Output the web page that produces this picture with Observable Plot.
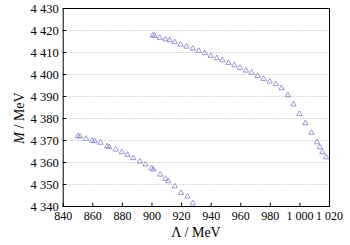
<!DOCTYPE html>
<html>
<head>
<meta charset="utf-8">
<script src="https://cdn.jsdelivr.net/npm/d3@7"></script>
<script src="https://cdn.jsdelivr.net/npm/@observablehq/plot@0.6"></script>
<style>
  html, body { margin: 0; padding: 0; background: #fff; }
  #chart { width: 350px; height: 245px; }
</style>
</head>
<body>
<div id="chart"></div>
<script>
// Upper branch
const upperLambda = [900.5, 901.7, 905.3, 909.1, 912.0, 915.4, 919.3, 923.3, 927.6, 931.6, 935.7, 939.7, 943.8, 947.6, 951.7, 955.7, 959.5, 963.6, 967.4, 971.5, 975.5, 979.6, 983.7, 987.5, 991.8, 995.6, 999.7, 1003.7, 1007.8, 1011.6, 1013.5, 1015.2, 1017.7];
const upperM = [4417.7, 4417.6, 4416.7, 4416.0, 4415.6, 4414.7, 4413.6, 4412.7, 4411.8, 4410.8, 4409.7, 4408.5, 4407.4, 4406.5, 4405.3, 4404.2, 4403.0, 4401.8, 4400.8, 4399.4, 4398.0, 4396.8, 4395.6, 4393.8, 4390.6, 4386.4, 4382.1, 4377.9, 4373.5, 4369.2, 4367.0, 4364.7, 4362.4];
// Lower branch
const lowerLambda = [850.0, 851.4, 855.5, 859.6, 861.2, 865.2, 869.7, 871.1, 875.5, 879.6, 883.4, 887.3, 891.8, 895.6, 899.7, 901.0, 905.5, 909.1, 911.0, 915.4, 919.7, 924.0, 927.6];
const lowerM = [4372.0, 4371.8, 4370.8, 4369.9, 4369.7, 4369.0, 4367.4, 4367.0, 4365.9, 4364.7, 4363.5, 4362.0, 4360.5, 4359.1, 4357.4, 4356.8, 4354.5, 4352.6, 4351.5, 4349.2, 4346.2, 4344.5, 4341.4];

const xTicks = [840, 860, 880, 900, 920, 940, 960, 980, 1000, 1020];
const yTicks = [4340, 4350, 4360, 4370, 4380, 4390, 4400, 4410, 4420, 4430];
const gridTicks = [4350, 4360, 4370, 4380, 4390, 4400, 4410, 4420];

const pts = [
  ...upperLambda.map((x, i) => ({x, y: upperM[i]})),
  ...lowerLambda.map((x, i) => ({x, y: lowerM[i]}))
];

const fmt = d3.formatLocale({decimal: ".", thousands: " ", grouping: [3], currency: ["", ""]}).format(",");
const font = "'Liberation Serif', 'DejaVu Serif', serif";

const plot = Plot.plot({
  width: 350,
  height: 245,
  marginLeft: 62.7,
  marginRight: 21,
  marginTop: 8,
  marginBottom: 39,
  style: {fontSize: "13px", background: "white", color: "black"},
  x: {domain: [840, 1020], label: null},
  y: {domain: [4340, 4430], label: null},
  marks: [
    Plot.gridY(gridTicks, {stroke: "#9a9a9a", strokeOpacity: 1, strokeDasharray: "1,2", strokeWidth: 0.8}),
    Plot.ruleX(xTicks, {y1: 4340, y2: 4341.5, stroke: "black", strokeWidth: 1}),
    Plot.ruleY(yTicks, {x1: 840, x2: 842.5, stroke: "black", strokeWidth: 1}),
    Plot.axisX(xTicks, {tickSize: 0, tickPadding: 5, tickFormat: fmt, fontSize: 12, label: null}),
    Plot.axisY(yTicks, {tickSize: 0, tickPadding: 4.5, tickFormat: fmt, fontSize: 12.5, label: null}),
    Plot.dot(pts, {x: "x", y: "y", symbol: "triangle", r: 2.0, fill: "none", stroke: "#8080c0", strokeWidth: 0.8}),
    Plot.frame({stroke: "black", strokeWidth: 1})
  ]
});

const svg = d3.select(plot);
svg.append("text")
  .attr("x", 196).attr("y", 237)
  .attr("text-anchor", "middle")
  .style("font-size", "14px").attr("fill", "black")
  .text("Λ / MeV");
const yt = svg.append("text")
  .attr("transform", "translate(24,118) rotate(-90)")
  .attr("text-anchor", "middle")
  .style("font-size", "14px").attr("fill", "black");
yt.append("tspan").style("font-style", "italic").text("M");
yt.append("tspan").text(" / MeV");

svg.style("font-family", font);
svg.selectAll("g, text").attr("font-family", null).style("font-family", font);

document.getElementById("chart").appendChild(plot);
</script>
</body>
</html>
